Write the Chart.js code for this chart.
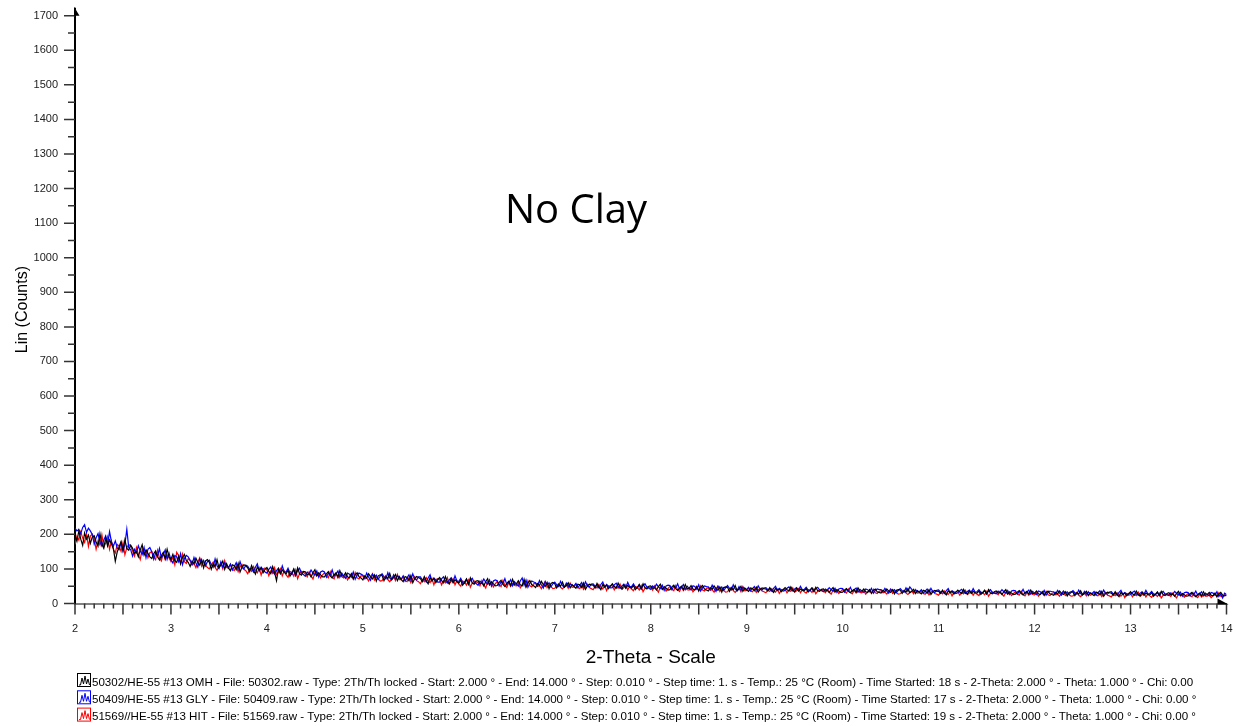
<!DOCTYPE html>
<html>
<head>
<meta charset="utf-8">
<title>No Clay</title>
<script src="https://cdn.jsdelivr.net/npm/chart.js@4/dist/chart.umd.min.js"></script>
<style>
    html, body { margin: 0; padding: 0; background: #fff; }
    #wrap { width: 1236px; height: 726px; }
</style>
</head>
<body>
<div id="wrap"><canvas id="xrdChart" width="1236" height="726"></canvas></div>
<script>
// 2-Theta positions: scan from 2 to 14 deg, values read every 0.02 deg
const X_MIN = 2;
const X_MAX = 14;
const X_STEP = 0.02;

const xTickLabels = ['2', '3', '4', '5', '6', '7', '8', '9', '10', '11', '12', '13', '14'];
const yTickLabels = ['0', '100', '200', '300', '400', '500', '600', '700', '800', '900',
    '1000', '1100', '1200', '1300', '1400', '1500', '1600', '1700'];

const chartTitle = 'No Clay';
const xTitle = '2-Theta - Scale';
const yTitle = 'Lin (Counts)';

const seriesColors = ['#000000', '#0000ff', '#ff0000'];
const legendLabels = [
    '50302/HE-55 #13 OMH - File: 50302.raw - Type: 2Th/Th locked - Start: 2.000 ° - End: 14.000 ° - Step: 0.010 ° - Step time: 1. s - Temp.: 25 °C (Room) - Time Started: 18 s - 2-Theta: 2.000 ° - Theta: 1.000 ° - Chi: 0.00',
    '50409/HE-55 #13 GLY - File: 50409.raw - Type: 2Th/Th locked - Start: 2.000 ° - End: 14.000 ° - Step: 0.010 ° - Step time: 1. s - Temp.: 25 °C (Room) - Time Started: 17 s - 2-Theta: 2.000 ° - Theta: 1.000 ° - Chi: 0.00 °',
    '51569//HE-55 #13 HIT - File: 51569.raw - Type: 2Th/Th locked - Start: 2.000 ° - End: 14.000 ° - Step: 0.010 ° - Step time: 1. s - Temp.: 25 °C (Room) - Time Started: 19 s - 2-Theta: 2.000 ° - Theta: 1.000 ° - Chi: 0.00 °'
];

// OMH (black), one row = 0.2 deg
const omhCounts = [
    198, 180, 210, 186, 168, 204, 186, 198, 174, 192,
    196, 178, 166, 202, 172, 160, 190, 166, 184, 172,
    159, 122, 149, 164, 179, 154, 184, 159, 154, 169,
    160, 145, 150, 135, 155, 170, 140, 155, 145, 135,
    130, 144, 152, 135, 126, 139, 148, 130, 157, 135,
    128, 142, 124, 119, 137, 115, 133, 142, 124, 119,
    107, 123, 115, 131, 119, 111, 127, 103, 123, 127,
    119, 99, 115, 107, 127, 103, 111, 123, 99, 115,
    102, 95, 112, 109, 98, 116, 91, 105, 112, 109,
    103, 92, 110, 96, 85, 106, 96, 103, 89, 99,
    104, 93, 86, 107, 90, 66, 100, 86, 97, 90,
    86, 96, 79, 89, 100, 82, 103, 86, 82, 93,
    92, 83, 86, 77, 89, 98, 80, 89, 83, 77,
    77, 86, 92, 80, 74, 83, 89, 77, 95, 80,
    80, 89, 77, 74, 86, 71, 83, 89, 77, 74,
    68, 80, 74, 86, 77, 71, 83, 65, 80, 83,
    81, 66, 78, 72, 87, 69, 75, 84, 66, 78,
    69, 63, 78, 75, 66, 81, 60, 72, 78, 75,
    72, 63, 78, 66, 57, 75, 66, 72, 60, 69,
    75, 66, 60, 78, 63, 57, 72, 60, 69, 63,
    59, 68, 53, 62, 71, 56, 74, 59, 56, 65,
    66, 57, 60, 51, 63, 72, 54, 63, 57, 51,
    52, 61, 67, 55, 49, 58, 64, 52, 70, 55,
    57, 66, 54, 51, 70, 48, 60, 66, 54, 51,
    46, 58, 52, 64, 55, 49, 61, 43, 58, 61,
    57, 45, 55, 50, 62, 47, 52, 60, 45, 55,
    49, 44, 56, 54, 46, 59, 41, 51, 56, 54,
    53, 45, 58, 48, 40, 55, 48, 53, 43, 50,
    57, 49, 44, 59, 47, 42, 54, 44, 52, 47,
    45, 52, 40, 47, 55, 42, 57, 45, 42, 50,
    51, 44, 46, 39, 49, 56, 41, 49, 44, 39,
    40, 48, 53, 43, 38, 45, 50, 40, 55, 43,
    44, 52, 42, 39, 49, 37, 47, 52, 42, 39,
    36, 46, 41, 51, 43, 38, 48, 33, 46, 48,
    47, 35, 45, 40, 52, 37, 42, 50, 35, 45,
    39, 35, 45, 43, 37, 47, 33, 41, 45, 43,
    42, 36, 46, 38, 32, 44, 38, 42, 34, 40,
    46, 40, 36, 48, 38, 34, 44, 36, 42, 38,
    37, 43, 33, 39, 45, 35, 47, 37, 35, 41,
    42, 36, 38, 32, 40, 46, 34, 40, 36, 32,
    33, 39, 43, 35, 31, 37, 41, 33, 45, 35,
    36, 42, 34, 32, 40, 30, 38, 42, 34, 32,
    30, 38, 34, 42, 36, 32, 40, 28, 38, 40,
    39, 29, 37, 33, 43, 31, 35, 41, 29, 37,
    32, 28, 38, 36, 30, 40, 26, 34, 38, 36,
    35, 29, 39, 31, 25, 37, 31, 35, 27, 33,
    39, 33, 29, 41, 31, 27, 37, 29, 35, 31,
    30, 36, 26, 32, 38, 28, 40, 30, 28, 34,
    36, 30, 32, 26, 34, 40, 28, 34, 30, 26,
    27, 33, 37, 29, 25, 31, 35, 27, 39, 29,
    30, 36, 28, 26, 34, 24, 32, 36, 28, 26,
    24, 32, 28, 36, 30, 26, 34, 22, 32, 34,
    33, 23, 31, 27, 37, 25, 29, 35, 23, 31,
    27, 23, 33, 31, 25, 35, 21, 29, 33, 31,
    30, 24, 34, 26, 20, 32, 26, 30, 22, 28,
    34, 28, 24, 36, 26, 22, 32, 24, 30, 26,
    25, 31, 21, 27, 33, 23, 35, 25, 23, 29,
    31, 25, 27, 21, 29, 35, 23, 29, 25, 21,
    22, 28, 32, 24, 20, 26, 30, 22, 34, 24,
    26, 32, 24, 22, 30, 20, 28, 32, 24, 22,
    25
];

// GLY (blue)
const glyCounts = [
    218, 210, 214, 202, 220, 228, 206, 218, 210, 200,
    172, 190, 202, 178, 166, 184, 196, 172, 208, 178,
    166, 181, 161, 156, 176, 151, 171, 215, 161, 156,
    137, 157, 147, 167, 152, 142, 162, 132, 157, 162,
    150, 128, 146, 137, 159, 132, 141, 155, 128, 146,
    126, 117, 139, 135, 121, 144, 112, 130, 139, 135,
    125, 113, 133, 117, 105, 129, 117, 125, 109, 121,
    125, 113, 105, 129, 109, 101, 121, 105, 117, 109,
    104, 114, 97, 107, 118, 100, 121, 104, 100, 111,
    108, 98, 101, 91, 105, 115, 94, 105, 98, 91,
    88, 99, 106, 92, 85, 95, 102, 88, 109, 92,
    91, 102, 88, 84, 98, 81, 95, 102, 88, 84,
    79, 91, 85, 97, 88, 82, 94, 76, 91, 94,
    91, 76, 88, 82, 97, 79, 85, 94, 76, 88,
    79, 73, 88, 85, 76, 91, 70, 82, 88, 85,
    82, 73, 88, 76, 67, 85, 76, 82, 70, 79,
    86, 77, 71, 89, 74, 68, 83, 71, 80, 74,
    71, 80, 65, 74, 83, 68, 86, 71, 68, 77,
    77, 68, 71, 62, 74, 83, 65, 74, 68, 62,
    62, 71, 77, 65, 59, 68, 74, 62, 80, 65,
    64, 73, 61, 58, 70, 55, 67, 73, 61, 58,
    53, 65, 59, 71, 62, 56, 68, 50, 65, 68,
    66, 51, 63, 57, 72, 54, 60, 69, 51, 63,
    56, 50, 65, 74, 53, 68, 47, 59, 65, 62,
    60, 51, 66, 54, 45, 63, 54, 60, 48, 57,
    62, 54, 49, 64, 52, 47, 59, 49, 57, 52,
    51, 58, 46, 53, 61, 48, 63, 51, 48, 56,
    57, 50, 52, 45, 55, 62, 47, 55, 50, 45,
    46, 54, 59, 49, 44, 51, 56, 46, 61, 49,
    49, 57, 47, 44, 54, 42, 52, 57, 47, 44,
    41, 51, 46, 56, 48, 43, 53, 38, 51, 53,
    52, 40, 50, 45, 57, 42, 47, 55, 40, 50,
    44, 39, 51, 49, 41, 54, 36, 46, 51, 49,
    48, 40, 53, 43, 35, 50, 43, 48, 38, 45,
    52, 44, 39, 54, 42, 37, 49, 39, 47, 42,
    41, 47, 37, 43, 49, 39, 51, 41, 39, 45,
    46, 40, 42, 36, 44, 50, 38, 44, 40, 36,
    38, 44, 48, 40, 36, 42, 46, 38, 50, 40,
    41, 47, 39, 37, 45, 35, 43, 47, 39, 37,
    34, 42, 38, 46, 40, 36, 44, 32, 42, 44,
    43, 33, 41, 37, 47, 35, 39, 45, 33, 41,
    36, 32, 42, 40, 34, 44, 30, 38, 42, 40,
    40, 34, 44, 36, 30, 42, 36, 40, 32, 38,
    43, 37, 33, 45, 35, 48, 41, 33, 39, 35,
    34, 40, 30, 36, 42, 32, 44, 34, 32, 38,
    39, 33, 35, 29, 37, 43, 31, 37, 33, 29,
    31, 37, 41, 33, 29, 35, 39, 31, 43, 33,
    34, 40, 32, 30, 38, 28, 36, 40, 32, 30,
    28, 36, 32, 40, 34, 30, 38, 26, 36, 38,
    37, 27, 35, 31, 41, 29, 33, 39, 27, 35,
    30, 26, 36, 34, 28, 38, 24, 32, 36, 34,
    34, 28, 38, 30, 24, 36, 30, 34, 26, 32,
    37, 31, 27, 39, 29, 25, 35, 27, 33, 29,
    29, 35, 25, 31, 37, 27, 39, 29, 27, 33,
    34, 28, 30, 24, 32, 38, 26, 32, 28, 24,
    26, 32, 36, 28, 24, 30, 34, 26, 38, 28,
    29, 35, 27, 25, 33, 23, 31, 35, 27, 25,
    23, 31, 27, 35, 29, 25, 33, 21, 31, 33,
    32, 22, 30, 26, 36, 24, 28, 34, 22, 30,
    26, 22, 32, 30, 24, 34, 20, 28, 16, 30,
    26
];

// HIT (red)
const hitCounts = [
    171, 195, 183, 207, 189, 177, 201, 165, 195, 201,
    187, 157, 181, 169, 199, 163, 175, 193, 157, 181,
    156, 146, 171, 166, 151, 176, 141, 161, 171, 166,
    152, 137, 162, 142, 127, 157, 142, 152, 132, 147,
    150, 136, 127, 154, 132, 123, 145, 127, 141, 132,
    121, 134, 112, 148, 139, 116, 143, 121, 116, 130,
    124, 112, 116, 104, 120, 132, 108, 120, 112, 104,
    100, 112, 120, 104, 96, 108, 116, 100, 124, 104,
    102, 113, 99, 95, 109, 92, 106, 113, 99, 95,
    86, 100, 93, 107, 96, 89, 103, 82, 100, 103,
    97, 80, 94, 87, 104, 83, 90, 101, 80, 94,
    83, 76, 93, 90, 79, 97, 72, 86, 93, 90,
    86, 77, 92, 80, 71, 89, 80, 86, 74, 83,
    89, 80, 74, 92, 77, 71, 86, 74, 83, 77,
    74, 83, 68, 77, 86, 71, 89, 74, 71, 80,
    80, 71, 74, 65, 77, 86, 68, 77, 71, 65,
    66, 75, 81, 69, 63, 72, 78, 66, 84, 69,
    69, 78, 66, 63, 75, 60, 72, 78, 66, 63,
    57, 69, 63, 75, 66, 60, 72, 54, 69, 72,
    69, 54, 66, 60, 75, 57, 63, 72, 54, 66,
    56, 50, 65, 62, 53, 68, 47, 59, 65, 62,
    60, 51, 66, 54, 45, 63, 54, 60, 48, 57,
    64, 55, 49, 67, 52, 46, 61, 49, 58, 52,
    51, 60, 45, 54, 63, 48, 66, 51, 48, 57,
    58, 49, 52, 43, 55, 64, 46, 55, 49, 43,
    44, 52, 57, 47, 42, 49, 54, 44, 59, 47,
    48, 56, 46, 43, 53, 41, 51, 56, 46, 43,
    40, 50, 45, 55, 47, 42, 52, 37, 50, 52,
    51, 39, 49, 44, 56, 41, 46, 54, 39, 49,
    42, 37, 49, 47, 39, 52, 34, 44, 49, 47,
    46, 38, 51, 41, 33, 48, 41, 46, 36, 43,
    50, 42, 37, 52, 40, 35, 47, 37, 45, 40,
    39, 46, 34, 41, 49, 36, 51, 39, 36, 44,
    45, 38, 40, 33, 43, 50, 35, 43, 38, 33,
    34, 42, 47, 37, 32, 39, 44, 34, 49, 37,
    38, 44, 36, 34, 42, 32, 40, 44, 36, 34,
    31, 39, 35, 43, 37, 33, 41, 29, 39, 41,
    41, 31, 39, 35, 45, 33, 37, 43, 31, 39,
    34, 30, 40, 38, 32, 42, 28, 36, 40, 38,
    37, 31, 41, 33, 27, 39, 33, 37, 29, 35,
    40, 34, 30, 42, 32, 28, 38, 30, 36, 32,
    31, 37, 27, 33, 39, 29, 41, 31, 29, 35,
    37, 31, 33, 27, 35, 41, 29, 35, 31, 27,
    28, 34, 38, 30, 26, 32, 36, 28, 40, 30,
    31, 37, 29, 27, 35, 25, 33, 37, 29, 27,
    24, 32, 28, 36, 30, 26, 34, 22, 32, 34,
    34, 24, 32, 28, 38, 26, 30, 36, 24, 32,
    27, 23, 33, 31, 25, 35, 21, 29, 33, 31,
    31, 25, 35, 27, 21, 33, 27, 31, 23, 29,
    34, 28, 24, 36, 26, 22, 32, 24, 30, 26,
    25, 31, 21, 27, 33, 23, 35, 25, 23, 29,
    31, 25, 27, 21, 29, 35, 23, 29, 25, 21,
    22, 28, 32, 24, 20, 26, 30, 22, 34, 24,
    26, 32, 24, 22, 30, 20, 28, 32, 24, 22,
    19, 27, 23, 31, 25, 21, 29, 17, 27, 29,
    29, 19, 27, 23, 33, 21, 25, 31, 19, 27,
    22, 18, 28, 26, 20, 30, 16, 24, 28, 26,
    26, 20, 30, 22, 16, 28, 22, 26, 18, 24,
    29, 23, 19, 31, 21, 17, 27, 19, 25, 21,
    21, 27, 17, 23, 29, 19, 31, 21, 19, 25,
    22
];

function toPoints(values) {
    return values.map((v, i) => ({ x: X_MIN + i * X_STEP, y: v }));
}

function noPadding(scale) {
    scale.paddingLeft = 0;
    scale.paddingRight = 0;
    scale.paddingTop = 0;
    scale.paddingBottom = 0;
}

// tick marks, axis arrows, inner title and the scan legend
const xrdDecor = {
    id: 'xrdDecor',
    afterDraw(chart) {
        const { ctx, scales: { x, y } } = chart;
        const axisX = x.getPixelForValue(X_MIN);
        const axisY = y.getPixelForValue(0);
        ctx.save();

        // ticks: x every 0.1 deg (longer every 0.5), y every 50 (longer every 100)
        ctx.strokeStyle = '#333';
        ctx.lineWidth = 1.5;
        ctx.beginPath();
        for (let i = 0; i <= 120; i++) {
            const px = x.getPixelForValue(X_MIN + i * 0.1);
            const len = i % 5 === 0 ? 11 : 5;
            ctx.moveTo(px, axisY);
            ctx.lineTo(px, axisY + len);
        }
        for (let v = 0; v <= 1700; v += 50) {
            const py = y.getPixelForValue(v);
            const len = v % 100 === 0 ? 11 : 7;
            ctx.moveTo(axisX, py);
            ctx.lineTo(axisX - len, py);
        }
        ctx.stroke();

        // axis arrows
        const top = y.getPixelForValue(1700);
        const right = x.getPixelForValue(X_MAX);
        ctx.fillStyle = '#000';
        ctx.fillRect(axisX - 1, top - 8, 2, 8);
        ctx.beginPath();
        ctx.moveTo(axisX - 1, top - 9);
        ctx.lineTo(axisX + 4.5, top);
        ctx.lineTo(axisX - 1, top);
        ctx.closePath();
        ctx.fill();
        ctx.beginPath();
        ctx.moveTo(right - 9, axisY - 5);
        ctx.lineTo(right + 2, axisY + 1);
        ctx.lineTo(right - 9, axisY + 1);
        ctx.closePath();
        ctx.fill();

        // title inside the plot
        ctx.font = '40px "Open Sans"';
        ctx.textAlign = 'center';
        ctx.textBaseline = 'alphabetic';
        ctx.fillText(chartTitle, 576, 223);

        // legend rows
        ctx.font = '11.57px "Liberation Sans", Arial, sans-serif';
        ctx.textAlign = 'left';
        legendLabels.forEach((label, i) => {
            const rowY = 673 + i * 17.3;
            const color = seriesColors[i];
            ctx.strokeStyle = color;
            ctx.lineWidth = 1;
            ctx.strokeRect(77.5, rowY + 0.5, 13, 13);
            ctx.beginPath();
            ctx.moveTo(79, rowY + 12);
            ctx.lineTo(80.5, rowY + 12);
            ctx.lineTo(82, rowY + 5);
            ctx.lineTo(83.5, rowY + 11);
            ctx.lineTo(85, rowY + 3);
            ctx.lineTo(86.5, rowY + 11);
            ctx.lineTo(88, rowY + 6);
            ctx.lineTo(89.5, rowY + 12);
            ctx.stroke();
            ctx.fillStyle = '#000';
            ctx.fillText(label, 92, rowY + 12.5);
        });

        ctx.restore();
    }
};

const ctx = document.getElementById('xrdChart').getContext('2d');

new Chart(ctx, {
    type: 'line',
    data: {
        datasets: [
            { label: 'OMH', data: toPoints(omhCounts), borderColor: seriesColors[0] },
            { label: 'GLY', data: toPoints(glyCounts), borderColor: seriesColors[1] },
            { label: 'HIT', data: toPoints(hitCounts), borderColor: seriesColors[2] }
        ]
    },
    options: {
        responsive: false,
        animation: false,
        events: [],
        layout: {
            padding: { left: 0, top: 15.7, right: 9.5, bottom: 0 }
        },
        elements: {
            line: { borderWidth: 1.2, tension: 0 },
            point: { radius: 0 }
        },
        plugins: {
            legend: { display: false },
            tooltip: { enabled: false }
        },
        scales: {
            x: {
                type: 'linear',
                min: X_MIN,
                max: X_MAX,
                afterFit: (scale) => { scale.height = 122.5; noPadding(scale); },
                afterBuildTicks: (scale) => {
                    scale.ticks = xTickLabels.map(t => ({ value: Number(t) }));
                },
                ticks: {
                    autoSkip: false,
                    maxRotation: 0,
                    padding: 19,
                    color: '#222',
                    font: { family: '"Liberation Sans", Arial, sans-serif', size: 11 },
                    callback: (value) => xTickLabels.find(t => Number(t) === value) || ''
                },
                grid: { display: false, drawTicks: false },
                border: { color: '#808080', width: 2 },
                title: {
                    display: true,
                    text: xTitle,
                    color: '#000',
                    font: { family: '"Liberation Sans", Arial, sans-serif', size: 19 },
                    padding: { top: 0, bottom: 56.6 }
                }
            },
            y: {
                min: 0,
                max: 1700,
                afterFit: (scale) => { scale.width = 75; noPadding(scale); },
                afterBuildTicks: (scale) => {
                    scale.ticks = yTickLabels.map(t => ({ value: Number(t) }));
                },
                ticks: {
                    autoSkip: false,
                    padding: 17,
                    color: '#222',
                    font: { family: '"Liberation Sans", Arial, sans-serif', size: 11 },
                    callback: (value) => yTickLabels.find(t => Number(t) === value) || ''
                },
                grid: { display: false, drawTicks: false },
                border: { color: '#000', width: 2 },
                title: {
                    display: true,
                    text: yTitle,
                    color: '#000',
                    font: { family: '"Liberation Sans", Arial, sans-serif', size: 16 },
                    padding: { top: 13.4, bottom: 0 }
                }
            }
        }
    },
    plugins: [xrdDecor]
});
</script>
</body>
</html>
